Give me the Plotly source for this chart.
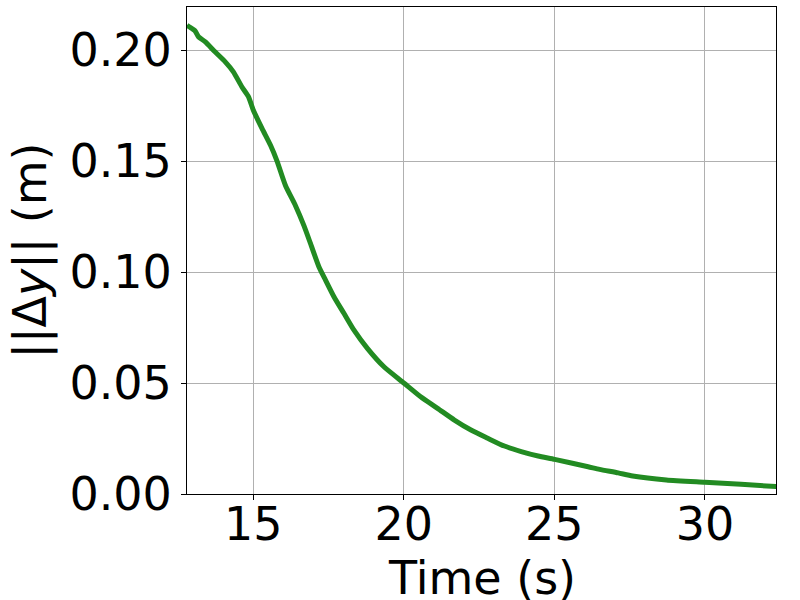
import plotly.graph_objects as go

time_s = [12.80, 12.87, 13.07, 13.18, 13.40, 13.73, 14.07, 14.34, 14.62, 14.84,
          15.00, 15.29, 15.57, 15.79, 16.07, 16.40, 16.68, 16.90, 17.18, 17.40,
          17.68, 18.01, 18.34, 18.79, 19.34, 20.01, 20.56, 21.12, 21.68, 22.23,
          22.79, 23.34, 23.90, 24.46, 25.01, 26.12, 26.50, 27.12, 27.60, 28.72,
          30.00, 31.20, 32.40]
delta_y = [0.2112, 0.2105, 0.2086, 0.2060, 0.2038, 0.1992, 0.1947, 0.1902, 0.1835, 0.1790,
           0.1730, 0.1647, 0.1572, 0.1500, 0.1390, 0.1300, 0.1210, 0.1129, 0.1024, 0.0964,
           0.0889, 0.0814, 0.0739, 0.0656, 0.0573, 0.0499, 0.0438, 0.0386, 0.0333, 0.0288,
           0.0251, 0.0216, 0.0191, 0.0171, 0.0156, 0.0123, 0.0111, 0.0095, 0.0081, 0.0063,
           0.0053, 0.0044, 0.0033]

x_ticks = [15, 20, 25, 30]
y_ticks = [0.00, 0.05, 0.10, 0.15, 0.20]
y_tick_labels = ["0.00", "0.05", "0.10", "0.15", "0.20"]
x_title = "Time (s)"
y_title = "||Δ<i>y</i>|| (m)"

FONT = "DejaVu Sans"
FS = 46

fig = go.Figure()
fig.add_trace(go.Scatter(
    x=time_s, y=delta_y, mode="lines",
    line=dict(color="#228B22", width=5, shape="spline", smoothing=0.6),
    showlegend=False,
))

axis_common = dict(
    showline=True, linecolor="black", linewidth=1, mirror=True,
    ticks="outside", ticklen=5, tickwidth=1, tickcolor="black",
    showgrid=True, gridcolor="#b0b0b0", gridwidth=1,
    zeroline=False,
    tickfont=dict(family=FONT, size=FS, color="black"),
)

fig.update_layout(
    width=800, height=600,
    margin=dict(l=187, r=24, t=7, b=106, autoexpand=False),
    paper_bgcolor="white", plot_bgcolor="white",
    font=dict(family=FONT, size=FS, color="black"),
    xaxis=dict(
        range=[12.80, 32.36], tickvals=x_ticks,
        automargin=False, ticklabelstandoff=-15,
        **axis_common,
    ),
    yaxis=dict(
        range=[0, 0.2194], tickvals=y_ticks, ticktext=y_tick_labels,
        title=dict(text=y_title, font=dict(family=FONT, size=FS, color="black"), standoff=8),
        automargin=False,
        **axis_common,
    ),
    annotations=[dict(
        text=x_title, xref="paper", yref="paper", x=0.5, y=0,
        xanchor="center", yanchor="top", yshift=-55, showarrow=False,
        font=dict(family=FONT, size=FS, color="black"),
    )],
)

fig.write_html("out.html", config={"displayModeBar": False},
               post_script="document.body.style.margin='0px';document.body.style.padding='0px';")
